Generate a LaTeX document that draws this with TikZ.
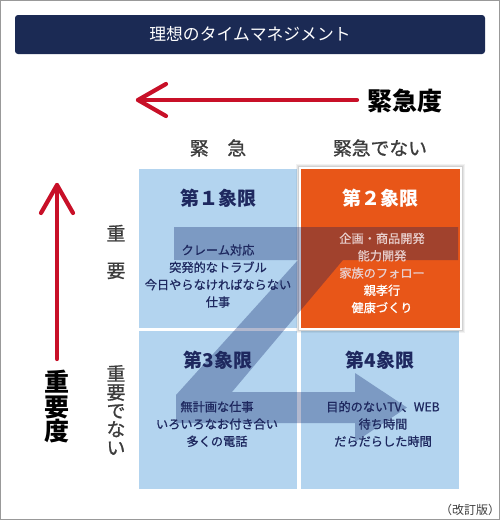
\documentclass[tikz,border=0pt]{standalone}
\usepackage{fontspec}
\setmainfont{Noto Sans CJK JP}
\newfontfamily\medfont{Noto Sans CJK JP}[FakeBold=0.9]
\usetikzlibrary{calc}
\definecolor{qblue}{RGB}{179,212,239}
\definecolor{qorange}{RGB}{232,86,24}
\definecolor{navybar}{RGB}{27,42,84}
\definecolor{navytxt}{RGB}{30,40,95}
\definecolor{arrowred}{RGB}{200,16,40}
\definecolor{labelgrey}{RGB}{60,60,60}
\definecolor{zcol}{RGB}{0,20,95}
\definecolor{pinkgrey}{RGB}{232,206,204}
\begin{document}
\begin{tikzpicture}[x=1pt,y=-1pt,
  quad/.style={fill=qblue,draw=none},
  qhead/.style={font=\bfseries\fontsize{19}{19}\selectfont,text=navytxt,inner sep=0pt},
  qbody/.style={font=\medfont\fontsize{12.2}{17.3}\selectfont,text=navytxt,align=center,inner sep=0pt},
  axislabel/.style={font=\medfont\fontsize{18.8}{18.5}\selectfont,text=labelgrey,align=center,inner sep=0pt},
  biglabel/.style={font=\bfseries\fontsize{25}{24.5}\selectfont,text=black,align=center,inner sep=0pt},
  redarrow/.style={draw=arrowred,line width=4.2pt,line cap=round,line join=round}]
\useasboundingbox (0,0) rectangle (500,520);
\fill[white] (0,0) rectangle (500,520);
\draw[gray!80,line width=1.2pt] (0.6,0.6) rectangle (499.4,519.4);
% title
\fill[navybar,rounded corners=3pt] (15,15) rectangle (485,54);
\node[text=white,font=\fontsize{16.8}{17}\selectfont,inner sep=0pt] (title) at (250,34) {理想のタイムマネジメント};
% horizontal axis
\coordinate (hstart) at (357,100);
\coordinate (htip) at (138,100);
\draw[redarrow] (hstart) -- (htip);
\draw[redarrow] ($(htip)+(28,-16)$) -- (htip) -- ($(htip)+(28,16)$);
\node[biglabel] (urg) at (405,101) {緊急度};
% vertical axis
\coordinate (vstart) at (57,359);
\coordinate (vtip) at (57,185);
\draw[redarrow] (vstart) -- (vtip);
\draw[redarrow] ($(vtip)+(-16,28)$) -- (vtip) -- ($(vtip)+(16,28)$);
\node[biglabel] (imp) at (57,407) {重\\要\\度};
% column / row labels
\node[axislabel] (c1) at (218,148) {緊　急};
\node[axislabel] (c2) at (380,148) {緊急でない};
\node[axislabel] (r1) at (116,252) {重\\　\\要};
\node[axislabel] (r2) at (116,410) {重\\要\\で\\な\\い};
% quadrants
\fill[quad] (139,169) rectangle (297,328);
\fill[quad] (139,331) rectangle (297,489);
\fill[quad] (301,331) rectangle (459,489);
% shadow of Q2
\foreach \d/\o in {5/0.05,4/0.06,3/0.08,2/0.1}{
  \fill[black,opacity=\o] (301-\d,169-\d) rectangle (460+\d,328+\d);}
\fill[white] (299,167) rectangle (462,330);
\fill[qorange] (301,169) rectangle (460,328);
% Z arrow
\fill[zcol,opacity=0.3] (174,227) -- (458,227) -- (458,260) -- (343,260) -- (232,392)
  -- (355,392) -- (355,373) -- (407,407.5) -- (355,442) -- (355,423) -- (176,423)
  -- (176,395) -- (298,260) -- (174,260) -- cycle;
% quadrant texts
\node[qhead] (h1) at (218,198) {第１象限};
\node[qbody] (b1) at (218,276) {クレーム対応\\突発的なトラブル\\今日やらなければならない\\仕事};
\node[qhead,text=white] (h2) at (380,198) {第２象限};
\node[qbody,text=white] (b2) at (382,273) {\textcolor{pinkgrey}{企画・商品開発}\\\textcolor{pinkgrey}{能力開発}\\\textcolor{pinkgrey}{家族のフォロー}\\親孝行\\健康づくり};
\node[qhead] (h3) at (218,360) {第3象限};
\node[qbody] (b3) at (217,424) {無計画な仕事\\いろいろなお付き合い\\多くの電話};
\node[qhead] (h4) at (380,360) {第4象限};
\node[qbody] (b4) at (383,424) {目的のないTV、WEB\\待ち時間\\だらだらした時間};
% note
\node[font=\fontsize{12}{12}\selectfont,text=labelgrey,inner sep=0pt] (note) at (470,510) {（改訂版）};
\end{tikzpicture}
\end{document}
